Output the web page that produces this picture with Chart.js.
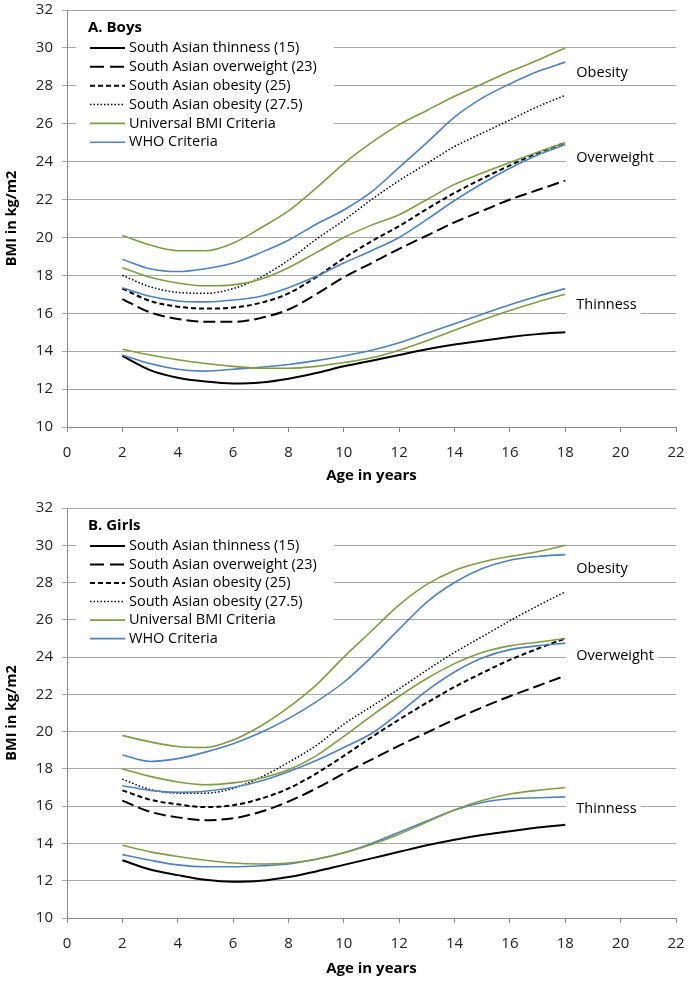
<!DOCTYPE html>
<html>
<head>
<meta charset="utf-8">
<script src="https://cdn.jsdelivr.net/npm/chart.js@4.4.1/dist/chart.umd.min.js"></script>
<style>
  body { margin: 0; background: #fff; }
  canvas { position: absolute; left: 0; }
  #boys { top: 0; }
  #girls { top: 490px; }
</style>
</head>
<body>
<canvas id="boys" width="689" height="490"></canvas>
<canvas id="girls" width="689" height="493"></canvas>
<script>
// ages 2..18
const ages = [2, 3, 4, 5, 6, 7, 8, 9, 10, 11, 12, 13, 14, 15, 16, 17, 18];

// Boys
const boysSAThin   = [13.75, 13.0, 12.6, 12.4, 12.3, 12.35, 12.55, 12.85, 13.2, 13.5, 13.8, 14.1, 14.35, 14.55, 14.75, 14.9, 15.0];
const boysSAOver   = [16.75, 16.05, 15.7, 15.55, 15.55, 15.75, 16.2, 17.0, 17.9, 18.65, 19.4, 20.1, 20.8, 21.4, 22.0, 22.5, 23.0];
const boysSAOb25   = [17.3, 16.65, 16.35, 16.25, 16.3, 16.55, 17.05, 17.9, 18.9, 19.8, 20.6, 21.5, 22.35, 23.1, 23.8, 24.45, 25.0];
const boysSAOb275  = [18.0, 17.4, 17.1, 17.05, 17.3, 17.9, 18.8, 19.9, 20.9, 22.0, 23.0, 23.9, 24.8, 25.5, 26.2, 26.9, 27.5];
const boysUniThin  = [14.1, 13.8, 13.55, 13.35, 13.2, 13.1, 13.1, 13.2, 13.4, 13.65, 14.05, 14.55, 15.1, 15.65, 16.15, 16.6, 17.0];
const boysUniOver  = [18.4, 17.9, 17.6, 17.45, 17.5, 17.8, 18.4, 19.2, 20.0, 20.65, 21.2, 22.0, 22.8, 23.4, 23.95, 24.5, 25.0];
const boysUniObese = [20.1, 19.6, 19.3, 19.3, 19.7, 20.5, 21.4, 22.6, 23.9, 25.0, 25.95, 26.7, 27.45, 28.1, 28.75, 29.35, 30.0];
const boysWhoThin  = [13.8, 13.35, 13.05, 12.95, 13.05, 13.15, 13.3, 13.5, 13.75, 14.05, 14.45, 14.95, 15.45, 15.95, 16.45, 16.9, 17.3];
const boysWhoOver  = [17.35, 16.9, 16.65, 16.6, 16.7, 16.9, 17.35, 17.95, 18.65, 19.3, 20.0, 20.95, 21.95, 22.85, 23.65, 24.35, 24.9];
const boysWhoObese = [18.85, 18.35, 18.2, 18.35, 18.65, 19.2, 19.85, 20.7, 21.45, 22.4, 23.7, 25.0, 26.35, 27.35, 28.1, 28.75, 29.25];

// Girls
const girlsSAThin   = [13.1, 12.6, 12.3, 12.05, 11.95, 12.0, 12.2, 12.5, 12.85, 13.2, 13.55, 13.9, 14.2, 14.45, 14.65, 14.85, 15.0];
const girlsSAOver   = [16.3, 15.7, 15.4, 15.25, 15.35, 15.7, 16.25, 16.95, 17.75, 18.5, 19.25, 19.95, 20.65, 21.3, 21.9, 22.45, 23.0];
const girlsSAOb25   = [16.85, 16.35, 16.1, 15.95, 16.05, 16.4, 16.95, 17.75, 18.7, 19.7, 20.65, 21.55, 22.4, 23.15, 23.85, 24.45, 25.0];
const girlsSAOb275  = [17.45, 16.9, 16.7, 16.7, 16.95, 17.55, 18.35, 19.25, 20.4, 21.35, 22.3, 23.3, 24.25, 25.1, 25.95, 26.75, 27.5];
const girlsUniThin  = [13.9, 13.55, 13.3, 13.1, 12.95, 12.9, 12.95, 13.15, 13.5, 13.95, 14.5, 15.15, 15.8, 16.3, 16.65, 16.85, 17.0];
const girlsUniOver  = [18.0, 17.6, 17.3, 17.15, 17.25, 17.5, 17.95, 18.7, 19.75, 20.85, 21.9, 22.85, 23.65, 24.25, 24.6, 24.8, 25.0];
const girlsUniObese = [19.8, 19.45, 19.2, 19.15, 19.55, 20.3, 21.3, 22.5, 24.0, 25.4, 26.8, 27.9, 28.65, 29.1, 29.4, 29.65, 30.0];
const girlsWhoThin  = [13.4, 13.1, 12.85, 12.75, 12.75, 12.8, 12.9, 13.15, 13.5, 14.0, 14.6, 15.2, 15.8, 16.2, 16.4, 16.45, 16.5];
const girlsWhoOver  = [17.1, 16.85, 16.75, 16.8, 17.0, 17.35, 17.85, 18.45, 19.15, 19.9, 21.0, 22.2, 23.2, 23.95, 24.4, 24.6, 24.75];
const girlsWhoObese = [18.75, 18.4, 18.55, 18.9, 19.35, 19.95, 20.7, 21.6, 22.65, 24.0, 25.5, 26.95, 28.0, 28.75, 29.2, 29.4, 29.5];

const legendLabels = ['South Asian thinness (15)', 'South Asian overweight (23)', 'South Asian obesity (25)',
                      'South Asian obesity (27.5)', 'Universal BMI Criteria', 'WHO Criteria'];
const zoneLabels = ['Obesity', 'Overweight', 'Thinness'];

const GREEN = '#7F9C45';
const BLUE = '#4F81BD';
const FONT = "'Open Sans', sans-serif";

// style per legend entry: [color, dash, width]
const lineStyles = [
    ['#000', [], 2],
    ['#000', [12, 5], 2],
    ['#000', [5, 3], 2],
    ['#000', [1.5, 2], 1.5],
    [GREEN, [], 1.6],
    [BLUE, [], 1.6]
];

function series(values, styleIdx) {
    const s = lineStyles[styleIdx];
    return {
        data: ages.map((a, i) => ({ x: a, y: values[i] })),
        borderColor: s[0],
        borderDash: s[1],
        borderWidth: s[2],
        pointRadius: 0,
        cubicInterpolationMode: 'monotone',
        fill: false
    };
}

const panelPlugin = {
    id: 'panel',
    afterDraw(chart) {
        const ctx = chart.ctx;
        const area = chart.chartArea;
        const o = chart.options.plugins.panel;
        const step = area.height * 0.0452;
        ctx.save();
        // legend box
        ctx.fillStyle = '#fff';
        ctx.fillRect(area.left + 9, area.top + 6, 258, step * 7.4);
        ctx.fillStyle = '#000';
        ctx.textBaseline = 'middle';
        ctx.font = 'bold 15px ' + FONT;
        ctx.fillText(o.title, area.left + 21, area.top + 18);
        ctx.font = '14.5px ' + FONT;
        legendLabels.forEach((lbl, i) => {
            const y = area.top + 38 + i * step;
            const s = lineStyles[i];
            ctx.strokeStyle = s[0];
            ctx.lineWidth = s[2];
            ctx.setLineDash(i === 1 ? [14, 6] : s[1]);
            ctx.beginPath();
            ctx.moveTo(area.left + 23, y);
            ctx.lineTo(area.left + 58, y);
            ctx.stroke();
            ctx.setLineDash([]);
            ctx.fillText(lbl, area.left + 62, y);
        });
        // zone labels on the right
        const xs = chart.scales.x, ys = chart.scales.y;
        zoneLabels.forEach((lbl, i) => {
            const x = xs.getPixelForValue(18.4);
            const y = ys.getPixelForValue(o.zoneY[i]);
            const w = ctx.measureText(lbl).width;
            ctx.fillStyle = '#fff';
            ctx.fillRect(x - 10, y - 9, w + 14, 18);
            ctx.fillStyle = '#000';
            ctx.fillText(lbl, x, y);
        });
        ctx.restore();
    }
};

function makeChart(id, title, sets, zoneY, padTop, xHeight) {
    new Chart(document.getElementById(id), {
        type: 'line',
        data: {
            datasets: [
                series(sets[4], 4), series(sets[5], 4), series(sets[6], 4),
                series(sets[7], 5), series(sets[8], 5), series(sets[9], 5),
                series(sets[0], 0), series(sets[1], 1), series(sets[2], 2), series(sets[3], 3)
            ]
        },
        options: {
            responsive: false,
            animation: false,
            layout: { padding: { top: padTop, right: 13, left: 0, bottom: 0 } },
            plugins: {
                legend: { display: false },
                tooltip: { enabled: false },
                panel: { title: title, zoneY: zoneY }
            },
            scales: {
                x: {
                    type: 'linear',
                    min: 0, max: 22,
                    afterFit(scale) {
                        scale.height = xHeight;
                        scale.paddingLeft = 0;
                        scale.paddingRight = 0;
                    },
                    ticks: { stepSize: 2, padding: 12, color: '#222', font: { family: FONT, size: 15 } },
                    grid: { drawOnChartArea: false, drawTicks: true, tickLength: 5, color: '#888' },
                    border: { color: '#888' },
                    title: { display: true, text: 'Age in years', color: '#000',
                             font: { family: FONT, size: 15, weight: 'bold' }, padding: { top: 0, bottom: 5 } }
                },
                y: {
                    min: 10, max: 32,
                    afterFit(scale) {
                        scale.width = 67;
                        scale.paddingTop = 0;
                        scale.paddingBottom = 0;
                    },
                    ticks: { stepSize: 2, padding: 9, color: '#222', font: { family: FONT, size: 15 } },
                    grid: { color: '#a6a6a6', tickLength: 5 },
                    border: { color: '#888' },
                    title: { display: true, text: 'BMI in kg/m2', color: '#000',
                             font: { family: FONT, size: 14.5, weight: 'bold' }, padding: { top: 3, bottom: 0 } }
                }
            }
        },
        plugins: [panelPlugin]
    });
}

makeChart('boys', 'A. Boys',
    [boysSAThin, boysSAOver, boysSAOb25, boysSAOb275, boysUniThin, boysUniOver, boysUniObese, boysWhoThin, boysWhoOver, boysWhoObese],
    [28.68, 24.2, 16.44], 10, 63);
makeChart('girls', 'B. Girls',
    [girlsSAThin, girlsSAOver, girlsSAOb25, girlsSAOb275, girlsUniThin, girlsUniOver, girlsUniObese, girlsWhoThin, girlsWhoOver, girlsWhoObese],
    [28.75, 24.08, 15.83], 18, 65);
</script>
</body>
</html>
